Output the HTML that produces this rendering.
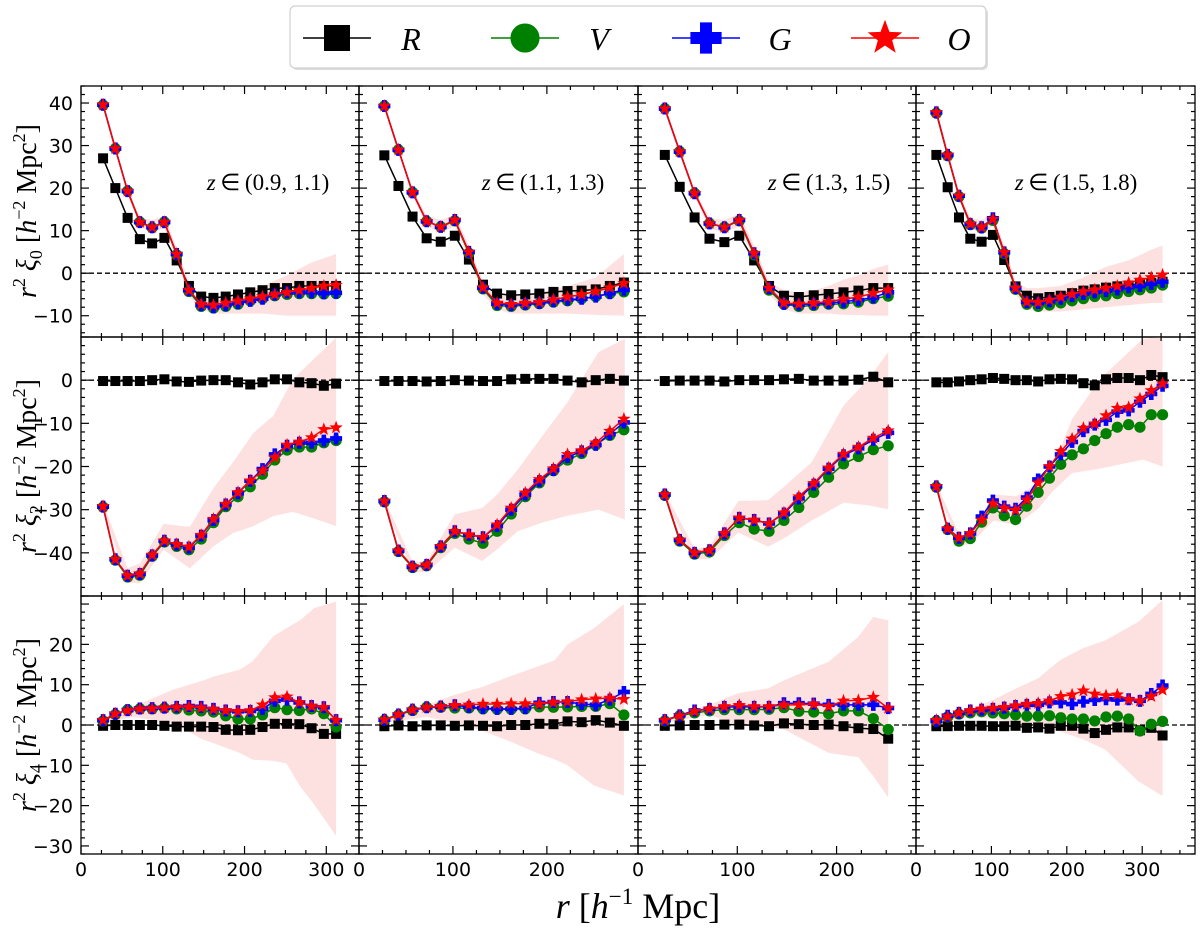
<!DOCTYPE html>
<html><head><meta charset="utf-8"><style>
html,body{margin:0;padding:0;background:#fff;}
svg{display:block;}
</style></head><body>
<svg id="fig" width="1200" height="931" viewBox="0 0 1200 931" xmlns="http://www.w3.org/2000/svg"></svg>
<script>
// ---- data ----
const rBins = [27,42,57,72,87,102,117,132,147,162,177,192,207,222,237,252,267,282,297,312,327];
const nPoints = [20,18,16,21];
const panelLabels = ["(0.9, 1.1)","(1.1, 1.3)","(1.3, 1.5)","(1.5, 1.8)"];
const xMaxes = [340,297,280,370];
const xTickLabels = [[0,100,200,300],[0,100,200],[0,100,200],[0,100,200,300]];
const yTickLabels = [[-10,0,10,20,30,40],[-40,-30,-20,-10,0],[-30,-20,-10,0,10,20]];
const yRanges = [[-15,44],[-50,10],[-32,32]];

// xi0
const xi0_R = [[27,20,13,8,7,8.3,3,-3,-5.5,-5.8,-5.5,-5,-4.5,-4,-3.5,-3.5,-3,-3,-3,-3],
[27.7,20.5,13.3,8.2,7.4,8.8,3.2,-2.7,-4.8,-5.2,-5,-4.8,-4.4,-4.2,-4.1,-3.8,-3,-2.2],
[27.8,20.3,13.1,8.1,7.3,8.8,3,-3,-5.3,-5.6,-5.2,-4.9,-4.5,-4.1,-3.5,-3.5],
[27.8,20.2,13.1,8.1,7.4,9,3.1,-3.1,-5.3,-5.9,-5.6,-5.3,-4.7,-4.1,-3.8,-3.4,-3.1,-2.9,-2.5,-2.3,-2]];
const xi0_V = [[39.5,29.3,19.3,12,10.7,12,4.3,-4.3,-7.8,-8.2,-7.8,-7.3,-6.5,-6,-5.3,-5,-4.8,-4.8,-4.9,-4.8],
[39.3,29,19,12.2,10.9,12.3,4.7,-3.7,-7.6,-7.8,-7.5,-7.2,-6.8,-6.5,-6,-5.5,-4.8,-4.4],
[38.7,28.6,18.8,11.7,10.8,12.3,4.3,-4,-7.3,-7.8,-7.6,-7.3,-7.2,-6.8,-6,-5.4],
[37.6,27.6,18,11.4,10.6,12.4,4.6,-3.8,-7.3,-7.8,-7.5,-7,-6.5,-6,-5.5,-5.3,-4.8,-4.3,-3.9,-3.5,-2.8]];
const xi0_G = [[39.6,29.3,19.3,12,10.8,12,4.5,-4,-7.5,-8,-7.5,-7,-6.5,-6,-5,-4.5,-4.5,-4.5,-4.7,-4.6],
[39.3,29,19,12.2,10.9,12.5,5,-3.4,-7.2,-7.5,-7.2,-7,-6.6,-6.2,-6,-5.5,-4.7,-3.9],
[38.7,28.6,18.8,11.7,10.8,12.5,4.7,-3.5,-7.2,-7.4,-7.2,-7,-6.7,-6.3,-5.7,-4.5],
[37.8,27.8,18.2,11.6,10.8,12.9,4.9,-3.5,-6.8,-7,-6.6,-6,-5.4,-4.9,-4.5,-4.2,-3.8,-3.3,-3,-2.5,-2]];
const xi0_O = [[39.6,29.3,19.3,12,10.8,12,4.5,-4,-7.3,-7.5,-7,-6.5,-6,-5.5,-5,-4.5,-4,-3.5,-3,-2.8],
[39.3,29,19,12.2,10.9,12.5,5,-3.4,-7,-7.3,-7,-6.8,-6.2,-5.6,-5,-4.3,-3.4,-2.4],
[38.7,28.6,18.8,11.7,10.8,12.5,4.7,-3.5,-7,-7.2,-7,-6.7,-6.1,-5.6,-4.7,-3.9],
[37.8,27.8,18.2,11.6,10.8,12.7,4.9,-3.5,-6.7,-6.8,-6.3,-5.6,-4.9,-4.3,-3.9,-3.5,-3,-2.3,-1.6,-1,-0.4]];
// xi2
const xi2_R = [[-0.2,-0.2,-0.2,-0.2,0,0.2,-0.3,-0.4,-0.1,0,0,-0.5,-1,-0.5,0.2,0.2,-0.5,-0.7,-1.3,-0.8],
[-0.2,-0.2,-0.2,-0.3,-0.2,0,-0.1,-0.2,-0.2,0.2,0.3,0.3,0.3,-0.1,-0.5,0,0.3,-0.1],
[-0.2,-0.1,-0.1,-0.1,-0.3,0,0,0,0.2,0.3,-0.1,-0.1,-0.1,0.1,0.8,-0.5],
[-0.5,-0.5,-0.3,0,0.2,0.5,0.3,0,0,-0.3,0.2,0.3,0.2,-0.7,-1.2,0.2,0.5,0.5,0,1.2,0.7]];
const xi2_V = [[-29.4,-41.7,-45.6,-45.2,-40.8,-37.5,-38.5,-39.3,-36.8,-33,-29.3,-27,-24.7,-21.8,-18.5,-16.2,-15.5,-15.5,-14.5,-14],
[-28.2,-39.7,-43.4,-43,-38.8,-35.5,-36.8,-37.8,-35,-31,-27,-23.8,-21,-18.5,-17,-15,-12.8,-11.5],
[-26.7,-37.3,-40.3,-39.8,-36,-33,-34.5,-35,-32.5,-29.5,-26,-22.5,-19.4,-17.7,-16.1,-15.2],
[-24.8,-34.6,-37.3,-36.7,-32.9,-29.6,-31.4,-32.3,-29.2,-26,-22.7,-19.5,-17.3,-15.9,-14,-12.4,-10.9,-10.3,-10.9,-8,-8]];
const xi2_G = [[-29.3,-41.5,-45.3,-44.9,-40.6,-37.2,-38.1,-38.8,-36,-32.4,-28.8,-26.2,-23.3,-20.6,-17.2,-15.2,-14.5,-14.5,-14,-13.5],
[-28,-39.5,-43.2,-42.8,-38.5,-35,-35.8,-36.4,-33.8,-30,-26.5,-23.4,-20.8,-17.8,-16.5,-15,-12.5,-9.8],
[-26.5,-37,-40,-39.4,-35.5,-31.9,-32.4,-33.2,-30.9,-27.4,-24.2,-20.5,-17.4,-15.8,-13.8,-12.2],
[-24.6,-34.4,-36.5,-35.5,-31.6,-27.9,-29.3,-29.8,-27.2,-23,-20,-17.2,-14.3,-11.8,-10.3,-9.2,-7.3,-7,-5,-3.2,-1.3]];
const xi2_O = [[-29.2,-41.5,-45.3,-44.8,-40.5,-37.2,-38,-38.6,-35.9,-32.2,-28.7,-26,-23.3,-21,-17.9,-15,-14.3,-13.3,-11.4,-11],
[-28,-39.5,-43.2,-42.8,-38.5,-35,-35.8,-36.4,-33.5,-29.6,-26.1,-23,-20.5,-17.2,-16.3,-14.5,-11.8,-9],
[-26.5,-37,-40,-39.4,-35.5,-31.9,-32.4,-33.2,-30.7,-27,-23.9,-20.3,-17.1,-15.5,-13.4,-11.7],
[-24.6,-34.4,-36.5,-35.5,-32.4,-28.6,-29.6,-30.1,-27.7,-23.8,-20,-16.5,-13.6,-11.1,-10.1,-8.2,-6.5,-6.3,-4.3,-2.4,-0.8]];
// xi4
const xi4_R = [[-0.2,0,0,0,0,-0.2,-0.4,-0.4,-0.4,-0.5,-1.2,-1.3,-1.2,-0.5,0.3,0.3,0.2,-0.8,-2.2,-2.2],
[-0.3,-0.1,-0.3,-0.1,-0.1,-0.2,-0.1,-0.2,-0.3,0,0,0.3,0.2,0.9,0.7,1.2,0.6,-0.2],
[-0.2,-0.1,0,0,0.1,0.1,-0.1,-0.3,0.4,0.2,0,0.1,-0.3,-0.8,-1,-3.4],
[-0.3,-0.3,-0.2,-0.2,-0.2,-0.3,-0.3,-0.2,-0.7,-0.6,-0.9,-0.2,-0.2,-0.9,-2,-1.2,-0.6,-0.6,-1.3,-0.7,-2.6]];
const xi4_V = [[1,2.6,3.8,4,4,4.2,4,3.7,3.5,3.2,2.3,1.5,1.5,2.5,4.3,3.8,3.6,4,2.8,-0.5],
[1.2,2.5,3.6,4.4,4.4,4.2,4.2,4,3.9,3.9,4,4.5,4.4,4.5,4.6,4.6,5.3,2.5],
[1,2.3,3,3.5,3.8,3.8,3.8,3.9,4.3,3.4,3.2,2.8,3.5,3.5,1.6,-1.1],
[1,2,2.7,3,3.3,3,2.8,2.5,2.2,2.2,2.3,1.8,1.5,1.5,1,2,2.2,1.5,-1.5,0.2,0.9]];
const xi4_G = [[1.2,2.8,3.7,4.1,4.2,4.3,4.5,4.7,4.5,4,3.6,3.4,3.5,4,6,6.3,5.6,4.7,4.4,1.2],
[1.3,2.6,3.8,4.4,4.6,4.9,4.5,4.2,4,4,4.2,5.5,5.7,5.7,5.2,5,6.3,8.2],
[1.2,2.4,3.6,4,4.5,4.5,4.5,4.5,5.4,5.4,5.3,5,5,5,5,4.2],
[1,2.3,3,3.6,3.8,4,4.3,4.7,5,5,5.6,5.6,5.2,5.8,6.2,6.4,6.3,6.4,6,7.7,9.8]];
const xi4_O = [[1.2,2.8,3.6,4,4.1,4.3,4.4,4.5,4.3,3.9,3.6,3.4,3.6,5,6.8,7,5.6,4.7,4.4,1.2],
[1.3,2.6,3.8,4.4,4.6,4.9,5,5.2,5.2,5.3,5.3,5.2,5.6,5.8,6.3,6.5,6.7,6.4],
[1.2,2.3,3.4,4,4.6,4.9,4.6,4.6,5,5,5.2,4.6,6,6.1,6.9,4.2],
[1.2,2.1,3,3.6,4,4.2,4.4,4.8,5.2,5.4,6,7.1,7.5,8.5,7.7,7.3,7.5,6.3,6,7.1,8.7]];

// error bands (knots)
const band0_r = [[27,42,57,72,87,102,117,132,147,162,192,222,252,282,312],
[27,42,57,72,87,102,117,132,147,162,192,222,252,282],
[27,42,57,72,87,102,117,132,147,162,177,192,207,222,237,252],
[27,42,57,72,87,102,117,132,147,162,192,222,252,282,312,327]];
const band0_up = [[40.5,30,20,13,12.5,13.5,6,-2,-5.5,-6,-5,-3,-0.5,2.5,4.5],
[40,29.8,19.8,13.5,12.5,13.8,6.5,-2,-5,-5.5,-4.5,-3,-1,4.5],
[39.5,29.5,19.5,13,12.5,14,6.5,-2,-4,-4.5,-4,-3,-1.5,-0.5,1,2],
[38.5,28.5,19,13,12.5,14,6.5,-2,-3.5,-3.5,-3,-1,1.5,3,5.5,6.5]];
const band0_lo = [[38.5,28.5,18.5,11,9.5,10.5,3,-5.5,-8.5,-9.5,-9.5,-9.5,-10,-10,-10],
[38.5,28.2,18.2,11,9.5,11,3.5,-5,-8.5,-9.5,-9.5,-9.5,-9.8,-10],
[38,27.8,18,10.5,9.5,11,3,-5,-8.5,-9.5,-9.5,-9.5,-9.8,-9.8,-10,-10],
[37,27,17.5,10.5,9.5,11,3,-5,-8.5,-9,-9,-8.5,-8,-7.5,-7,-7]];
const band1_r = [[27,57,72,101,133,162,186,211,235,259,284,312],
[27,57,72,102,131,147,169,195,222,255,283],
[27,57,72,101,131,148,175,207,232,252],
[27,58,72,103,133,162,180,207,244,301,327]];
const band1_up = [[-28.5,-43.5,-42.5,-33.3,-34,-25,-19,-12.2,-8.3,0.2,4.8,9.8],
[-27.5,-42,-42,-31.1,-29.6,-26.5,-20.7,-13,-5.1,6.5,9.6],
[-26,-39,-38.5,-28,-27.8,-24.5,-19,-5.9,0.3,6.5],
[-24,-36,-35.5,-26.5,-26.9,-23.8,-20.7,-9,0.3,9.6,10]];
const band1_lo = [[-30,-47,-47,-39.3,-43.6,-38.5,-35.4,-33.8,-31.5,-30.5,-32,-33.8],
[-29,-44.5,-44.5,-38.8,-41.9,-39.2,-35,-33,-31.4,-30,-32.3],
[-27.5,-41.5,-41.5,-35.3,-38.6,-36.5,-32.5,-28.4,-29,-29.9],
[-25.5,-38.3,-38,-32.5,-33.6,-29.8,-26,-21.5,-20.5,-18.4,-20]];
const band2_r = [[27,64,113,149,162,194,210,235,251,268,285,312],
[27,72,102,132,160,190,208,222,250,282],
[27,72,101,131,148,192,222,237,252],
[27,72,103,132,162,191,221,251,295,327]];
const band2_up = [[1.5,4.6,8.8,11,12,13.7,15.8,22,24,26,29,30.6],
[1.5,5,7.5,9.5,12,14.5,16,20,24,30],
[1.5,5,7.9,9.1,11.2,15.7,21.9,26.8,26],
[1.5,4,6.3,9,11.6,16.1,19,21,25.6,31]];
const band2_lo = [[0.5,2,0.5,-3.6,-4.5,-6.9,-8.6,-8.9,-9.5,-15.2,-19.7,-27.5],
[0.5,2,0.5,-1.5,-4,-7,-8.5,-10,-15,-17.5],
[0.5,2.5,0,-0.3,-1.2,-6.9,-8,-12.7,-18],
[0.5,2,1.5,0.5,-0.3,-1.6,-3.5,-6.1,-14,-17.6]];

// ---- layout ----
const NS = "http://www.w3.org/2000/svg";
const svg = document.getElementById('fig');
const colX = [81,359,638,916,1195];
const rowTop = [86,337,596], rowBot = [337,596,854];
function sx(p, r){ return colX[p] + r*(colX[p+1]-colX[p])/xMaxes[p]; }
function sy(m, v){ const [lo,hi]=yRanges[m]; return rowTop[m] + (hi-v)*(rowBot[m]-rowTop[m])/(hi-lo); }
function mk(tag, attrs, parent){ const e=document.createElementNS(NS,tag); for(const k in attrs) e.setAttribute(k,attrs[k]); (parent||svg).appendChild(e); return e; }
function starPts(cx,cy,R,r){ let s=[]; for(let i=0;i<10;i++){ const a=-Math.PI/2+i*Math.PI/5; const rr=i%2?r:R; s.push((cx+rr*Math.cos(a)).toFixed(2)+','+(cy+rr*Math.sin(a)).toFixed(2)); } return s.join(' '); }
function plusPath(cx,cy,s,w){ const a=s/2,b=w/2; return `M${cx-b},${cy-a}H${cx+b}V${cy-b}H${cx+a}V${cy+b}H${cx+b}V${cy+a}H${cx-b}V${cy+b}H${cx-a}V${cy-b}H${cx-b}Z`; }
function marker(type, x, y, g, scale){
  scale = scale||1; let e;
  if(type==='R'){ const s=10*scale; e=mk('rect',{x:x-s/2,y:y-s/2,width:s,height:s,fill:'#000'},g); }
  else if(type==='V'){ e=mk('ellipse',{cx:x,cy:y,rx:5.6*scale,ry:5.6*scale,fill:'#008000'},g); }
  else if(type==='G'){ e=mk('path',{d:plusPath(x,y,12*scale,4.6*scale),fill:'#0000ff'},g); }
  else { e=mk('polygon',{points:starPts(x,y,7*scale,2.9*scale),fill:'#ff0000'},g); }
  return e;
}
const seriesColors = {R:'#000000',V:'#008000',G:'#0000ff',O:'#ff0000'};
const seriesByRow = [
  {R:xi0_R,V:xi0_V,G:xi0_G,O:xi0_O},
  {R:xi2_R,V:xi2_V,G:xi2_G,O:xi2_O},
  {R:xi4_R,V:xi4_V,G:xi4_G,O:xi4_O}];
const bandsR=[band0_r,band1_r,band2_r], bandsUp=[band0_up,band1_up,band2_up], bandsLo=[band0_lo,band1_lo,band2_lo];
const rowNames=['xi0','xi2','xi4'];

for(let m=0;m<3;m++){
  for(let p=0;p<4;p++){
    const g=mk('g',{});
    
    
    const br=bandsR[m][p], bu=bandsUp[m][p], bl=bandsLo[m][p];
    let pts=[]; for(let i=0;i<br.length;i++) pts.push(sx(p,br[i])+','+sy(m,bu[i]));
    for(let i=br.length-1;i>=0;i--) pts.push(sx(p,br[i])+','+sy(m,bl[i]));
    const band=mk('polygon',{points:pts.join(' '),fill:'#fde1e1'},g);
    
    
    const z=mk('line',{x1:colX[p],x2:colX[p+1],y1:sy(m,0),y2:sy(m,0),stroke:'#000','stroke-width':1.3,'stroke-dasharray':'5,3'},g);
    
    
    for(const key of ['R','V','G','O']){
      const vals=seriesByRow[m][key][p];
      const sg=mk('g',{},g);
      
      
      const line=mk('polyline',{points:vals.map((v,i)=>sx(p,rBins[i])+','+sy(m,v)).join(' '),fill:'none',stroke:seriesColors[key],'stroke-width':1.5},sg);
      
      
      vals.forEach((v,i)=>{
        const e=marker(key,sx(p,rBins[i]),sy(m,v),sg);
        
        
      });
    }
    const x0=colX[p], x1=colX[p+1], y0=rowTop[m], y1=rowBot[m];
    const tg=mk('g',{stroke:'#000','stroke-width':1.2},g);
    
    
    for(let t=0;t<=xMaxes[p];t+=25){
      const X=sx(p,t), L=(t%100===0)?8:4;
      if(X<=x0+0.5||X>=x1-0.5) { if(t!==0) continue; }
      mk('line',{x1:X,x2:X,y1:y1,y2:y1-L},tg);
      mk('line',{x1:X,x2:X,y1:y0,y2:y0+L},tg);
    }
    const [ylo,yhi]=yRanges[m];
    for(let t=Math.ceil(ylo/2)*2;t<=yhi;t+=2){
      const Y=sy(m,t), L=(t%10===0)?8:4;
      mk('line',{x1:x0,x2:x0+L,y1:Y,y2:Y},tg);
      mk('line',{x1:x1,x2:x1-L,y1:Y,y2:Y},tg);
    }
    const frame=mk('rect',{x:x0,y:y0,width:x1-x0,height:y1-y0,fill:'none',stroke:'#000','stroke-width':1.3},g);
    
    
    if(m===2){
      xTickLabels[p].forEach(t=>{
        const tx=mk('text',{x:sx(p,t),y:876,'text-anchor':'middle','font-family':'DejaVu Sans, Liberation Sans, sans-serif','font-size':19},g);
        tx.textContent=String(t);
        
        
      });
    }
    if(p===0){
      yTickLabels[m].forEach(t=>{
        const tx=mk('text',{x:73,y:sy(m,t)+7,'text-anchor':'end','font-family':'DejaVu Sans, Liberation Sans, sans-serif','font-size':19},g);
        tx.textContent=(t<0?'\u2212'+(-t):String(t));
        
        
      });
    }
    if(m===0){
      const cx=[268,543,829,1076][p];
      const an=mk('text',{x:cx,y:190,'text-anchor':'middle','font-family':'Liberation Serif, serif','font-size':23},g);
      an.innerHTML='<tspan font-style="italic">z</tspan>\u2009\u2208\u2009'+panelLabels[p];
      
      
    }
  }
}
const ell=['0','2','4'];
const ycent=[211,466,725];
for(let m=0;m<3;m++){
  const t=mk('text',{x:0,y:0,transform:`translate(36,${ycent[m]}) rotate(-90)`,'text-anchor':'middle','font-family':'Liberation Serif, serif','font-size':28});
  t.innerHTML=`<tspan font-style="italic">r</tspan><tspan font-size="18" dy="-11">2</tspan><tspan dy="11" font-style="italic"> \u03BE</tspan><tspan font-size="18" dy="6">${ell[m]}</tspan><tspan dy="-6"> [</tspan><tspan font-style="italic">h</tspan><tspan font-size="18" dy="-11">\u22122</tspan><tspan dy="11"> Mpc</tspan><tspan font-size="18" dy="-11">2</tspan><tspan dy="11">]</tspan>`;
  
  
}
const xt=mk('text',{x:638,y:918,'text-anchor':'middle','font-family':'Liberation Serif, serif','font-size':36});
xt.innerHTML='<tspan font-style="italic">r</tspan> [<tspan font-style="italic">h</tspan><tspan font-size="23" dy="-14">\u22121</tspan><tspan dy="14"> Mpc]</tspan>';



const lg=mk('g',{});


mk('rect',{x:292,y:8,width:696,height:62,rx:5,fill:'#bbb',opacity:0.5},lg);
mk('rect',{x:290,y:6,width:696,height:62,rx:5,fill:'#fff',stroke:'#d0d0d0','stroke-width':1.2},lg);
const legKeys=['R','V','G','O'];
const legLetters=['R','V','G','O'];
const legX=[303,491,672,851];
legKeys.forEach((k,i)=>{
  const eg=mk('g',{},lg);
  
  
  mk('line',{x1:legX[i],x2:legX[i]+68,y1:38,y2:38,stroke:seriesColors[k],'stroke-width':1.5},eg);
  marker(k,legX[i]+34,38,eg,2.6);
  const t=mk('text',{x:legX[i]+108,y:50,'text-anchor':'middle','font-family':'Liberation Serif, serif','font-style':'italic','font-size':32},eg);
  t.textContent=legLetters[i];
});
</script>
</body></html>
